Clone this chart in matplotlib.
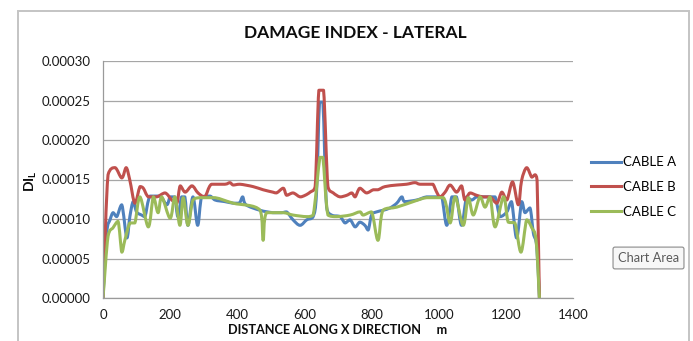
import matplotlib
matplotlib.use("Agg")
import matplotlib.pyplot as plt
from matplotlib.patches import Rectangle, PathPatch
from matplotlib.path import Path
from matplotlib.lines import Line2D
from matplotlib.ticker import FormatStrFormatter, MultipleLocator

plt.rcParams['font.family'] = ['Lato', 'DejaVu Sans']
plt.rcParams['mathtext.fontset'] = 'custom'
plt.rcParams['mathtext.rm'] = 'Lato'
plt.rcParams['mathtext.bf'] = 'Lato:bold'

# Damage index along the span (values in units of 1e-4)
dist_a = [0, 11, 21, 30, 41, 56, 71, 80, 90, 100, 115, 125, 140, 170, 190, 200, 214, 223, 234, 244,
          253, 268, 282, 294, 319, 334, 363, 388, 406, 416, 426, 468, 506, 532, 547, 566, 587, 607,
          626, 636, 645, 655, 666, 681, 706, 721, 736, 751, 765, 780, 790, 800, 815, 834, 855, 875,
          890, 899, 934, 964, 994, 1009, 1024, 1039, 1053, 1068, 1083, 1098, 1113, 1132, 1153, 1168,
          1183, 1203, 1217, 1232, 1247, 1257, 1272, 1282, 1292, 1300]
cable_a = [0, 0.82, 0.99, 1.08, 1.03, 1.18, 0.76, 1.03, 1.22, 1.09, 1.05, 1.03, 1.29, 1.29, 1.18, 1.28,
           1.28, 1.03, 1.28, 1.28, 0.92, 1.28, 0.92, 1.28, 1.29, 1.24, 1.22, 1.20, 1.20, 1.28, 1.18,
           1.11, 1.08, 1.08, 1.09, 0.99, 0.92, 0.99, 1.03, 1.33, 2.48, 2.48, 1.15, 1.05, 1.03, 0.95,
           0.99, 0.90, 0.96, 0.92, 0.86, 1.05, 1.09, 1.11, 1.14, 1.20, 1.28, 1.22, 1.24, 1.28, 1.28,
           1.28, 0.92, 1.28, 1.28, 0.92, 1.28, 1.24, 1.28, 1.28, 1.28, 1.28, 1.03, 1.09, 1.22, 0.76,
           1.22, 1.08, 1.14, 0.82, 0.65, 0]

dist_b = [0, 15, 36, 56, 69, 80, 95, 110, 120, 135, 160, 185, 205, 220, 230, 245, 265, 283, 303, 323,
          363, 378, 388, 408, 447, 477, 506, 517, 537, 547, 566, 587, 602, 617, 632, 643, 657, 670,
          686, 706, 726, 741, 751, 765, 785, 805, 819, 840, 875, 904, 929, 944, 974, 983, 994, 1004,
          1019, 1034, 1053, 1068, 1078, 1093, 1113, 1132, 1153, 1173, 1188, 1203, 1220, 1237, 1247,
          1262, 1277, 1287, 1293, 1300]
cable_b = [0, 1.56, 1.65, 1.52, 1.65, 1.49, 1.20, 1.41, 1.39, 1.28, 1.28, 1.33, 1.24, 1.20, 1.42, 1.34,
           1.42, 1.33, 1.28, 1.44, 1.44, 1.46, 1.43, 1.44, 1.41, 1.37, 1.34, 1.33, 1.39, 1.30, 1.33,
           1.28, 1.30, 1.34, 1.41, 2.63, 2.63, 1.41, 1.33, 1.28, 1.30, 1.33, 1.28, 1.39, 1.33, 1.37,
           1.37, 1.41, 1.43, 1.44, 1.46, 1.44, 1.44, 1.44, 1.34, 1.28, 1.34, 1.43, 1.34, 1.42, 1.24,
           1.33, 1.30, 1.28, 1.28, 1.20, 1.34, 1.24, 1.47, 1.18, 1.49, 1.65, 1.53, 1.56, 1.49, 0]

dist_c = [0, 15, 30, 45, 56, 65, 80, 95, 110, 135, 150, 164, 175, 200, 214, 229, 239, 253, 268, 289,
          334, 388, 468, 477, 487, 537, 566, 607, 626, 646, 655, 670, 696, 736, 765, 775, 800, 819,
          834, 875, 924, 964, 1014, 1034, 1049, 1073, 1088, 1103, 1123, 1138, 1153, 1168, 1193, 1207,
          1227, 1245, 1262, 1277, 1290, 1300]
cable_c = [0, 0.78, 0.89, 0.97, 0.58, 0.73, 0.95, 0.95, 1.28, 0.90, 1.28, 1.08, 1.28, 1.01, 1.28, 0.92,
           1.27, 0.92, 1.24, 1.27, 1.27, 1.20, 1.11, 0.73, 1.08, 1.08, 1.05, 1.03, 1.05, 1.78, 1.78,
           1.05, 1.03, 1.05, 1.09, 1.05, 1.09, 0.73, 1.11, 1.15, 1.22, 1.27, 1.27, 0.95, 1.28, 0.92,
           1.27, 1.05, 1.28, 1.15, 1.28, 0.90, 1.28, 0.96, 0.95, 0.58, 0.99, 0.89, 0.73, 0]

series_names = ["CABLE A", "CABLE B", "CABLE C"]
series_colors = ["#4F81BD", "#C0504D", "#9BBB59"]
x_ticks = [0, 200, 400, 600, 800, 1000, 1200, 1400]
SCALE = 1e-4


def _clamp(v, a, b):
    lo, hi = min(a, b), max(a, b)
    return max(lo, min(hi, v))


def smooth_path(xs, ys):
    """Smoothed line through the data points as cubic Bezier segments
    (Catmull-Rom tangents, control points kept inside each segment's range)."""
    n = len(xs)
    tangents = []
    for i in range(n):
        if i == 0:
            tx, ty = xs[1] - xs[0], ys[1] - ys[0]
        elif i == n - 1:
            tx, ty = xs[-1] - xs[-2], ys[-1] - ys[-2]
        else:
            tx = (xs[i + 1] - xs[i - 1]) / 2
            ty = (ys[i + 1] - ys[i - 1]) / 2
        tangents.append((tx, ty))
    verts = [(xs[0], ys[0])]
    codes = [Path.MOVETO]
    for i in range(n - 1):
        t0, t1 = tangents[i], tangents[i + 1]
        x0, y0, x1, y1 = xs[i], ys[i], xs[i + 1], ys[i + 1]
        c1 = (_clamp(x0 + t0[0] / 3, x0, x1), _clamp(y0 + t0[1] / 3, y0, y1))
        c2 = (_clamp(x1 - t1[0] / 3, x0, x1), _clamp(y1 - t1[1] / 3, y0, y1))
        verts += [c1, c2, (x1, y1)]
        codes += [Path.CURVE4] * 3
    return Path(verts, codes)


W, H = 693, 341
fig = plt.figure(figsize=(W / 100, H / 100), dpi=100)

# chart area border
fig.add_artist(Rectangle((18 / W, -0.05), (689 - 18) / W, 1.05 - 11 / H,
                         transform=fig.transFigure, fill=False,
                         edgecolor="#C4C4C4", lw=1.4))

ax = fig.add_axes([103 / W, 1 - 298 / H, 470 / W, 237 / H])
handles = []
for xs, ys, name, col in zip([dist_a, dist_b, dist_c], [cable_a, cable_b, cable_c],
                             series_names, series_colors):
    path = smooth_path(xs, [v * SCALE for v in ys])
    ax.add_patch(PathPatch(path, fill=False, edgecolor=col, lw=2.2,
                           joinstyle="round", capstyle="round"))
    handles.append(Line2D([], [], color=col, lw=2.2, label=name))

ax.set_xlim(0, 1400)
ax.set_ylim(0, 0.0003)
ax.set_xticks(x_ticks)
ax.yaxis.set_major_locator(MultipleLocator(0.00005))
ax.yaxis.set_major_formatter(FormatStrFormatter("%.5f"))
ax.grid(axis="y", color="#A6A6A6", lw=0.9)
ax.set_axisbelow(True)
for s in ("top", "right"):
    ax.spines[s].set_visible(False)
for s in ("left", "bottom"):
    ax.spines[s].set_color("#9A9A9A")
    ax.spines[s].set_linewidth(0.9)
ax.tick_params(length=0, labelsize=9.5, colors="#1a1a1a")
ax.tick_params(axis="y", pad=9)
ax.tick_params(axis="x", pad=8)

fig.text(355 / W, 1 - 33 / H, "DAMAGE INDEX - LATERAL", ha="center", va="center",
         fontsize=12.5, fontweight="bold", color="#0d0d0d")
fig.text(338 / W, 1 - 330 / H, "DISTANCE ALONG X DIRECTION     m", ha="center", va="center",
         fontsize=9.1, fontweight="bold", color="#0d0d0d")
fig.text(31 / W, 1 - 181 / H, r"DI$_\mathbf{L}$", ha="center", va="center", rotation=90,
         fontsize=10, fontweight="bold", color="#0d0d0d")

ax.legend(handles=handles, loc="center left", bbox_to_anchor=(591 / W, 1 - 187 / H),
          bbox_transform=fig.transFigure, frameon=False, fontsize=9.5,
          handlelength=2.3, handletextpad=0.15, labelspacing=0.95,
          borderpad=0, borderaxespad=0)

fig.text(648.5 / W, 1 - 258 / H, "Chart Area", ha="center", va="center", fontsize=9.3,
         color="#5a5a5a",
         bbox=dict(boxstyle="round,pad=0.38,rounding_size=0.15", facecolor="#F7F7F7",
                   edgecolor="#8a8a8a", lw=0.8))

fig.savefig("out.png", dpi=100)
